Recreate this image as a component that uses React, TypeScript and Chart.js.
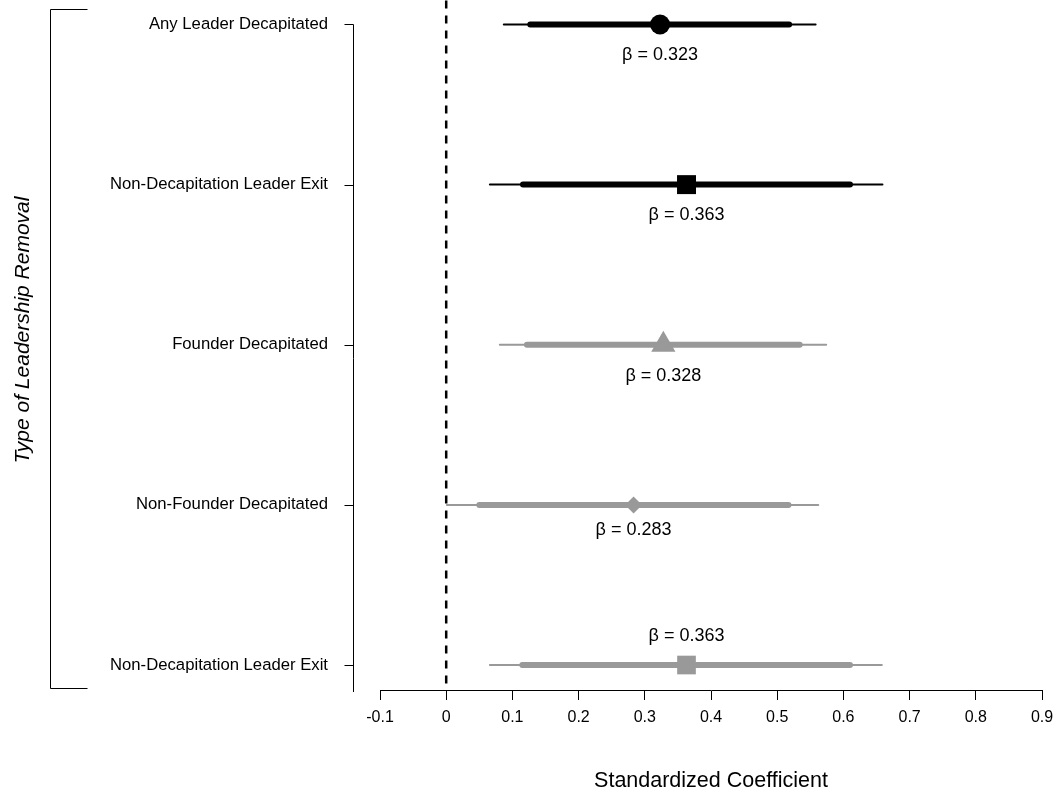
import React, { useEffect, useRef } from "react";
import { Chart, registerables } from "chart.js";

Chart.register(...registerables);

// Rows, top to bottom
const rowLabels = [
  "Any Leader Decapitated",
  "Non-Decapitation Leader Exit",
  "Founder Decapitated",
  "Non-Founder Decapitated",
  "Non-Decapitation Leader Exit",
];
const coefficients = [0.323, 0.363, 0.328, 0.283, 0.363];
const ci95Low = [0.087, 0.066, 0.081, 0.001, 0.066];
const ci95High = [0.558, 0.659, 0.574, 0.562, 0.658];
const ci90Low = [0.127, 0.116, 0.122, 0.05, 0.115];
const ci90High = [0.518, 0.61, 0.534, 0.517, 0.61];
const xTicks = [-0.1, 0, 0.1, 0.2, 0.3, 0.4, 0.5, 0.6, 0.7, 0.8, 0.9];

// Styling per row
const markerShapes = ["circle", "rect", "triangle", "rectRot", "rect"];
const markerSizes = [10, 13.4, 14, 8.5, 13.2];
const rowColors = ["#000000", "#000000", "#999999", "#999999", "#999999"];
const labelOffsets = [31, 30, 31, 25, -29];

const FONT = "'Liberation Sans', Arial, Helvetica, sans-serif";
const Y_MIN = -0.0655;
const Y_MAX = 4.156;

const decorPlugin = {
  id: "decor",
  afterDraw(chart: any) {
    const { ctx, chartArea, scales } = chart;
    const xs = scales.x;
    const ys = scales.y;
    ctx.save();

    // coefficient labels
    ctx.fillStyle = "#000";
    ctx.font = `18px ${FONT}`;
    ctx.textAlign = "center";
    ctx.textBaseline = "middle";
    coefficients.forEach((b, i) => {
      const px = xs.getPixelForValue(b);
      const py = ys.getPixelForValue(i) + labelOffsets[i];
      ctx.fillText(`β = ${b.toFixed(3)}`, px, py);
    });

    // detached left axis with tick marks
    ctx.strokeStyle = "#000";
    ctx.lineWidth = 1;
    const axisX = Math.round(chartArea.left - 27) + 0.5;
    ctx.beginPath();
    ctx.moveTo(axisX, Math.round(ys.getPixelForValue(0)) + 0.5);
    ctx.lineTo(axisX, chartArea.bottom + 2);
    rowLabels.forEach((_, i) => {
      const py = Math.round(ys.getPixelForValue(i)) + 0.5;
      ctx.moveTo(axisX - 9, py);
      ctx.lineTo(axisX, py);
    });
    ctx.stroke();

    // bracket grouping the rows
    const bx = 50.5;
    const bTop = 9.5;
    const bBottom = chartArea.bottom - 1.5;
    ctx.beginPath();
    ctx.moveTo(bx + 37, bTop);
    ctx.lineTo(bx, bTop);
    ctx.lineTo(bx, bBottom);
    ctx.lineTo(bx + 37, bBottom);
    ctx.stroke();

    // vertical axis title
    ctx.translate(23, 330);
    ctx.rotate(-Math.PI / 2);
    ctx.font = `italic 21px ${FONT}`;
    ctx.fillText("Type of Leadership Removal", 0, 0);

    ctx.restore();
  },
};

export default function App() {
  const canvasRef = useRef<HTMLCanvasElement | null>(null);

  useEffect(() => {
    const canvas = canvasRef.current;
    if (!canvas) return;

    const datasets: any[] = [
      {
        data: [
          { x: 0, y: -0.15 },
          { x: 0, y: 4.14 },
        ],
        showLine: true,
        clip: false,
        borderColor: "#000",
        borderWidth: 2.5,
        borderDash: [8, 7],
        pointRadius: 0,
        order: 10,
      },
    ];

    rowLabels.forEach((_, i) => {
      datasets.push({
        data: [
          { x: ci95Low[i], y: i },
          { x: ci95High[i], y: i },
        ],
        showLine: true,
        borderColor: rowColors[i],
        borderWidth: 2,
        borderCapStyle: "round",
        pointRadius: 0,
        order: 5,
      });
      datasets.push({
        data: [
          { x: ci90Low[i], y: i },
          { x: ci90High[i], y: i },
        ],
        showLine: true,
        borderColor: rowColors[i],
        borderWidth: 6,
        borderCapStyle: "round",
        pointRadius: 0,
        order: 3,
      });
    });

    datasets.push({
      data: coefficients.map((b, i) => ({ x: b, y: i })),
      showLine: false,
      pointStyle: markerShapes,
      pointRadius: markerSizes,
      pointBackgroundColor: rowColors,
      pointBorderColor: rowColors,
      pointBorderWidth: 0,
      order: 1,
    });

    const chart = new Chart(canvas, {
      type: "scatter",
      data: { datasets },
      options: {
        animation: false,
        responsive: false,
        devicePixelRatio: 1,
        events: [],
        layout: { padding: { top: 0, left: 0, right: 22, bottom: 0 } },
        plugins: {
          legend: { display: false },
          tooltip: { enabled: false },
        },
        scales: {
          x: {
            type: "linear",
            min: -0.1,
            max: 0.9,
            afterBuildTicks: (s: any) => {
              s.ticks = xTicks.map((v) => ({ value: v }));
            },
            ticks: {
              autoSkip: false,
              maxRotation: 0,
              color: "#000",
              padding: 8,
              font: { family: FONT, size: 16 },
              callback: (v: any) => String(Math.round(Number(v) * 10) / 10),
            },
            grid: {
              drawOnChartArea: false,
              drawTicks: true,
              tickLength: 10,
              color: "#000",
              lineWidth: 1,
            },
            border: { display: true, color: "#000", width: 1 },
            title: {
              display: true,
              text: "Standardized Coefficient",
              color: "#000",
              font: { family: FONT, size: 21.5 },
              padding: { top: 0, bottom: 6 },
            },
            afterFit: (s: any) => {
              s.height = 110;
              s.paddingLeft = 0;
              s.paddingRight = 0;
            },
          },
          y: {
            type: "linear",
            reverse: true,
            min: Y_MIN,
            max: Y_MAX,
            afterBuildTicks: (s: any) => {
              s.ticks = rowLabels.map((_, i) => ({ value: i }));
            },
            ticks: {
              autoSkip: false,
              color: "#000",
              padding: 52,
              font: { family: FONT, size: 16.7 },
              callback: (_v: any, idx: number) => rowLabels[idx] ?? "",
            },
            grid: { display: false, drawTicks: false },
            border: { display: false },
            afterFit: (s: any) => {
              s.width = 380;
              s.paddingTop = 0;
              s.paddingBottom = 0;
            },
          },
        },
      } as any,
      plugins: [decorPlugin],
    });

    return () => chart.destroy();
  }, []);

  return (
    <div style={{ position: "absolute", left: 0, top: 0, width: 1064, height: 800, background: "#fff" }}>
      <canvas ref={canvasRef} width={1064} height={800} style={{ display: "block" }} />
    </div>
  );
}
